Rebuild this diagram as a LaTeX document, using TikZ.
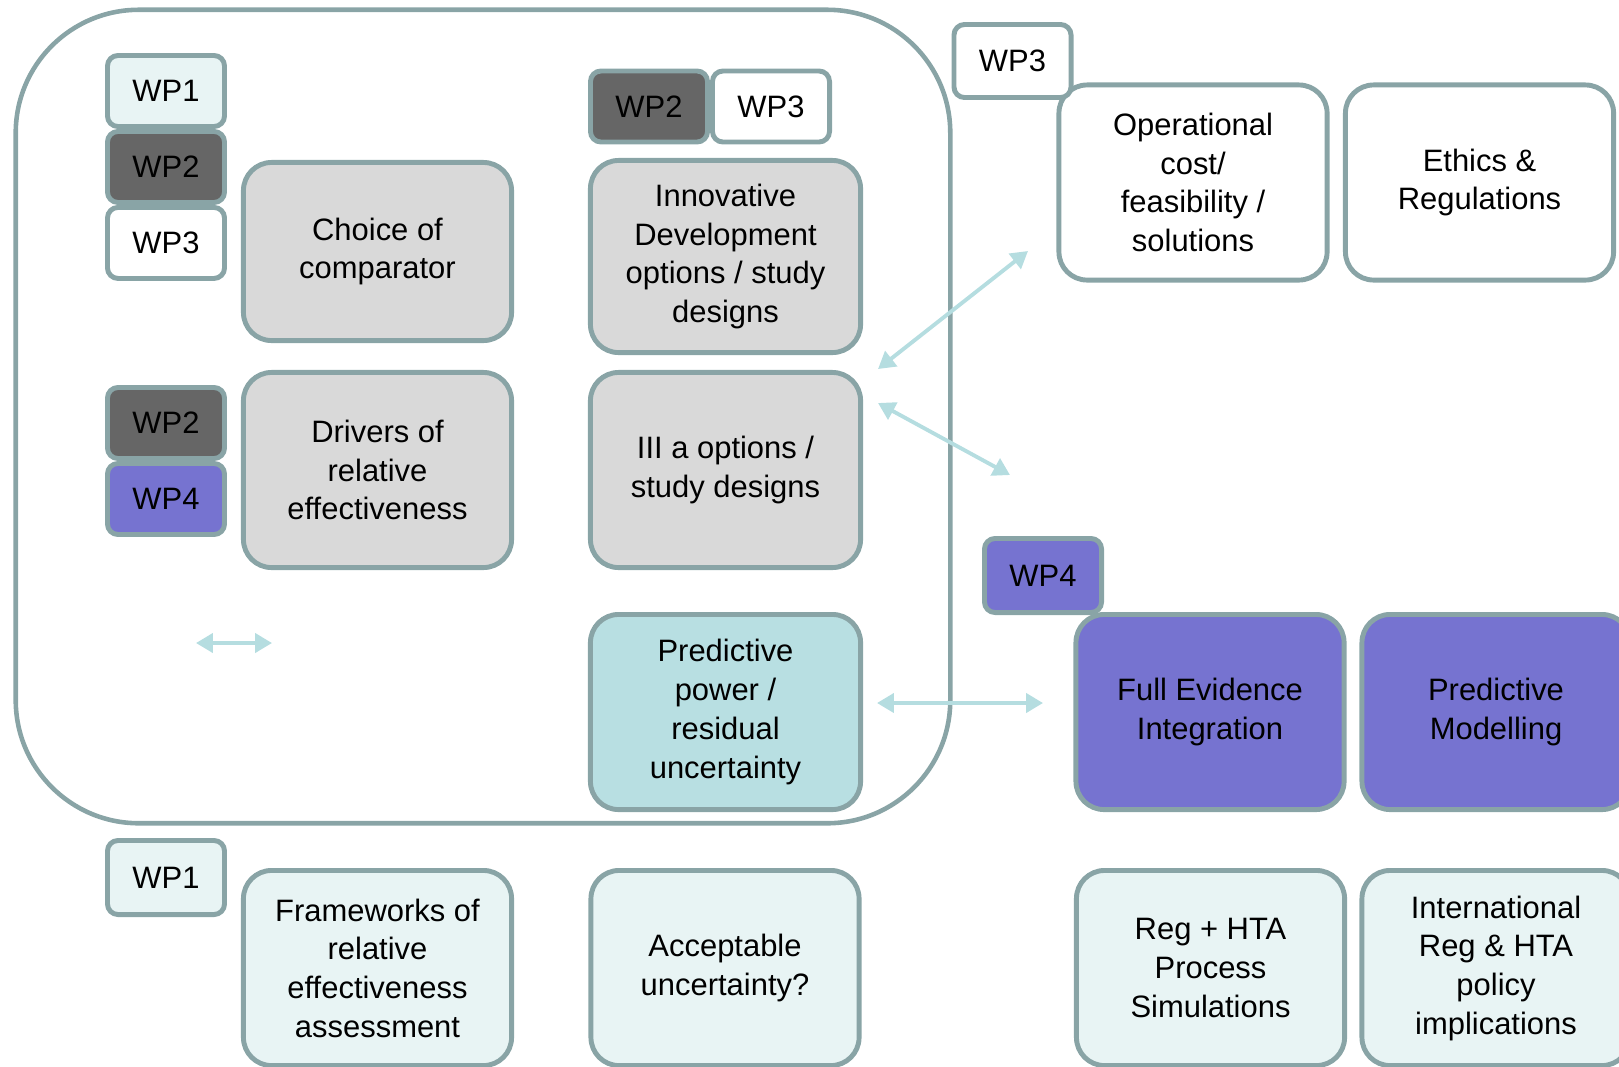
\documentclass[tikz,border=0pt]{standalone}
\usepackage{fontspec}
\setmainfont{Liberation Sans}
\usepackage{tikz}
\usetikzlibrary{arrows.meta,positioning}

\definecolor{edgegrey}{HTML}{89A4A6}
\definecolor{boxgrey}{HTML}{D9D9D9}
\definecolor{wpdark}{HTML}{666666}
\definecolor{wplight}{HTML}{E8F4F4}
\definecolor{wppurple}{HTML}{7673D0}
\definecolor{predteal}{HTML}{B8DFE2}
\definecolor{linkteal}{HTML}{B5DDE0}

\begin{document}
\begin{tikzpicture}[
    x=0.01cm, y=-0.01cm,
    box/.style={draw=edgegrey, line width=1.4pt, rounded corners=8pt,
                align=center, inner sep=2pt, fill=white,
                minimum width=2.68cm, minimum height=1.95cm,
                font=\fontsize{8.8}{11}\selectfont},
    wp/.style={box, rounded corners=3pt, minimum width=1.17cm, minimum height=0.71cm},
    link/.style={draw=linkteal, line width=1.1pt,
                 {Triangle[length=4.8pt,width=5.4pt]}-{Triangle[length=4.8pt,width=5.4pt]}}
  ]
  \useasboundingbox (0,0) rectangle (1619,1066);

  % big group frame
  \node[draw=edgegrey, line width=1.3pt, rounded corners=35pt,
        minimum width=9.34cm, minimum height=8.13cm] (GROUP) at (483,416.5) {};

  % left column
  \node[wp, fill=wplight] (WP1A) at (166,91) {WP1};
  \node[wp, fill=wpdark, below=0pt of WP1A] (WP2A) {WP2};
  \node[wp, below=0pt of WP2A] (WP3A) {WP3};
  \node[box, fill=boxgrey, minimum height=1.78cm] (CHOICE) at (377.5,251.5) {Choice of\\comparator};

  \node[wp, fill=wpdark] (WP2B) at (166,423) {WP2};
  \node[wp, fill=wppurple, below=0pt of WP2B] (WP4B) {WP4};
  \node[box, fill=boxgrey] (DRIVERS) at (377.5,470) {Drivers of\\relative\\effectiveness};

  % middle column
  \node[wp, fill=wpdark] (WP2C) at (649,106.5) {WP2};
  \node[wp, right=0pt of WP2C] (WP3C) {WP3};
  \node[box, fill=boxgrey, minimum width=2.7cm, minimum height=1.92cm] (INNOV) at (725.5,256.5)
    {Innovative\\Development\\options / study\\designs};
  \node[box, fill=boxgrey, minimum width=2.7cm] (THREEA) at (725.5,470) {III a options /\\study designs};
  \node[box, fill=predteal, minimum width=2.7cm] (PREDPOW) at (725.5,712)
    {Predictive\\power /\\residual\\uncertainty};

  % WP3 block
  \node[box] (OPER) at (1193,182.5) {Operational\\cost/\\feasibility /\\solutions};
  \node[box] (ETHICS) at (1479.5,182.5) {Ethics \&\\Regulations};
  \node[wp, minimum height=0.73cm] (WP3D) at (1012.5,61) {WP3};

  % WP4 block
  \node[box, fill=wppurple] (FULLEV) at (1210,712) {Full Evidence\\Integration};
  \node[box, fill=wppurple] (PREDMOD) at (1496,712) {Predictive\\Modelling};
  \node[wp, fill=wppurple, minimum height=0.74cm] (WP4D) at (1043,575.5) {WP4};

  % bottom row
  \node[wp, fill=wplight, minimum height=0.74cm] (WP1E) at (166,877.5) {WP1};
  \node[box, fill=wplight] (FRAME) at (377.5,968) {Frameworks of\\relative\\effectiveness\\assessment};
  \node[box, fill=wplight] (ACCEPT) at (725,968) {Acceptable\\uncertainty?};
  \node[box, fill=wplight] (REGHTA) at (1210.5,968) {Reg + HTA\\Process\\Simulations};
  \node[box, fill=wplight] (INTL) at (1496,968) {International\\Reg \& HTA\\policy\\implications};

  % links
  \coordinate (L1a) at (878,369);  \coordinate (L1b) at (1028,251);
  \coordinate (L2a) at (878,403);  \coordinate (L2b) at (1010,475);
  \coordinate (L3a) at (877,703);  \coordinate (L3b) at (1043,703);
  \coordinate (L4a) at (196,643);  \coordinate (L4b) at (272,643);
  \draw[link] (L1a) -- (L1b);
  \draw[link] (L2a) -- (L2b);
  \draw[link] (L3a) -- (L3b);
  \draw[link] (L4a) -- (L4b);
\end{tikzpicture}
\end{document}
